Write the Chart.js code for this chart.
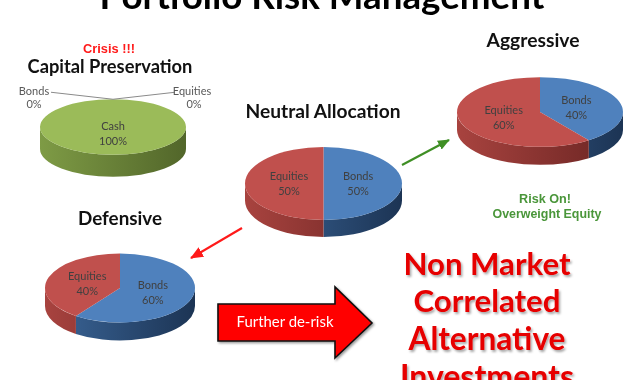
<!DOCTYPE html>
<html><head><meta charset="utf-8">
<script src="https://cdn.jsdelivr.net/npm/chart.js@4.4.1/dist/chart.umd.min.js"></script>
<style>
html,body{margin:0;padding:0;background:#fff;width:630px;height:380px;overflow:hidden;position:relative;}
canvas{position:absolute;}
#ov{position:absolute;left:0;top:0;pointer-events:none;}
.cal{font-family:Lato,"Open Sans",sans-serif;font-weight:700;}
.ari{font-family:"Liberation Sans",Arial,sans-serif;font-weight:700;}
</style></head><body>
<div id="charts"></div>
<svg id="ov" width="630" height="380" xmlns="http://www.w3.org/2000/svg">
<defs>
<marker id="mg" markerWidth="12" markerHeight="10" refX="11" refY="5" orient="auto" markerUnits="userSpaceOnUse"><path d="M0,0 L12,5 L0,10 z" fill="#3f8f25"/></marker>
<marker id="mr" markerWidth="13" markerHeight="11" refX="12" refY="5.5" orient="auto" markerUnits="userSpaceOnUse"><path d="M0,0 L13,5.5 L0,11 z" fill="#ff1a1a"/></marker>
<filter id="sh" x="-10%" y="-10%" width="130%" height="140%"><feDropShadow dx="1.5" dy="2" stdDeviation="1.2" flood-color="#000" flood-opacity="0.35"/></filter>
<filter id="sh2" x="-10%" y="-10%" width="130%" height="130%"><feDropShadow dx="1.5" dy="1.5" stdDeviation="1" flood-color="#000" flood-opacity="0.4"/></filter>
</defs>
<text class="cal fit" x="322" y="9" font-size="38" data-w="445" text-anchor="middle" fill="#000">Portfolio Risk Management</text>
<text class="ari fit" x="109" y="53" font-size="13" data-w="52" text-anchor="middle" fill="#ff1a1a">Crisis !!!</text>
<text class="cal fit" x="110" y="73" font-size="17" data-w="165" text-anchor="middle" fill="#111">Capital Preservation</text>
<text class="cal fit" x="323" y="118" font-size="17" data-w="155" text-anchor="middle" fill="#111">Neutral Allocation</text>
<text class="cal fit" x="533" y="47" font-size="17" data-w="93" text-anchor="middle" fill="#111">Aggressive</text>
<text class="cal fit" x="120" y="225" font-size="17" data-w="84" text-anchor="middle" fill="#111">Defensive</text>
<text class="ari fit" x="545" y="203" font-size="12" data-w="52" text-anchor="middle" fill="#4a963a">Risk On!</text>
<text class="ari fit" x="547" y="218" font-size="12" data-w="109" text-anchor="middle" fill="#4a963a">Overweight Equity</text>
<line x1="402" y1="165" x2="449" y2="140" stroke="#3f8f25" stroke-width="2.2" marker-end="url(#mg)"/>
<line x1="242" y1="228" x2="191" y2="258" stroke="#ff1a1a" stroke-width="2.2" marker-end="url(#mr)"/>
<polygon points="218,304 335,304 335,287 372,323 335,358 335,341 218,341" fill="#ff0000" stroke="#111" stroke-width="1.6" stroke-linejoin="miter" filter="url(#sh2)"/>
<text class="cal fit" x="285" y="327" font-size="13" data-w="97" text-anchor="middle" fill="#fff" style="font-weight:400">Further de-risk</text>
<g class="cal" fill="#e60000" filter="url(#sh)" text-anchor="middle">
<text class="fit" x="487" y="275" font-size="32" data-w="167">Non Market</text>
<text class="fit" x="487" y="312" font-size="32" data-w="147">Correlated</text>
<text class="fit" x="487" y="350" font-size="32" data-w="157">Alternative</text>
<text x="487" y="388" font-size="32">Investments</text>
</g>
</svg>
<script>
// ---- data ----
const capitalLabels = ['Bonds', 'Equities', 'Cash'];
const capitalValues = [0, 0, 100];
const neutralLabels = ['Bonds', 'Equities'];
const neutralValues = [50, 50];
const aggressiveLabels = ['Bonds', 'Equities'];
const aggressiveValues = [40, 60];
const defensiveLabels = ['Bonds', 'Equities'];
const defensiveValues = [60, 40];

// ---- styles ----
const topColors = {Bonds: '#4F81BD', Equities: '#C0504D', Cash: '#9BBB59'};
const sideColors = {Bonds: ['#3b6699', '#1c3454'], Equities: ['#a8433f', '#6a2422'], Cash: ['#7e9b45', '#52662a']};

const pie3d = {
  id: 'pie3d',
  beforeDatasetsDraw(chart, args, o) {
    const ctx = chart.ctx;
    const meta = chart.getDatasetMeta(0);
    const first = meta.data[0];
    const cx = first.x, cy = first.y, r = first.outerRadius, ry = r * o.k, D = o.depth;
    meta.data.forEach((arc, i) => {
      if (!(arc.circumference > 0)) return;
      const [c1, c2] = sideColors[chart.data.labels[i]];
      for (const off of [-2 * Math.PI, 0, 2 * Math.PI]) {
        const lo = Math.max(arc.startAngle, off), hi = Math.min(arc.endAngle, Math.PI + off);
        if (hi - lo > 1e-6) {
          const g = ctx.createLinearGradient(cx - r, 0, cx + r, 0);
          g.addColorStop(0, c1); g.addColorStop(1, c2);
          ctx.beginPath();
          ctx.ellipse(cx, cy, r, ry, 0, lo - off, hi - off, false);
          ctx.ellipse(cx, cy + D, r, ry, 0, hi - off, lo - off, true);
          ctx.closePath();
          ctx.fillStyle = g; ctx.fill();
        }
      }
    });
    ctx.save();
    ctx.translate(cx, cy); ctx.scale(1, o.k); ctx.translate(-cx, -cy);
  },
  afterDatasetsDraw(chart, args, o) {
    const ctx = chart.ctx;
    ctx.restore();
    const meta = chart.getDatasetMeta(0);
    const ds = chart.data.datasets[0];
    const first = meta.data[0];
    const cx = first.x, cy = first.y, r = first.outerRadius, ry = r * o.k;
    const total = ds.data.reduce((a, b) => a + b, 0);
    ctx.save();
    ctx.font = '11px Lato, sans-serif';
    ctx.textBaseline = 'middle';
    ctx.fillStyle = '#404040';
    let zi = 0;
    meta.data.forEach((arc, i) => {
      const v = ds.data[i];
      const name = chart.data.labels[i];
      const pct = Math.round(v / total * 100) + '%';
      if (v > 0) {
        const mid = (arc.startAngle + arc.endAngle) / 2;
        const x = cx + Math.cos(mid) * r * o.labelR;
        const y = cy + Math.sin(mid) * r * o.labelR * o.k;
        ctx.textAlign = 'center';
        ctx.fillText(name, x, y - 7);
        ctx.fillText(pct, x, y + 8);
      } else {
        const side = zi++ === 0 ? -1 : 1;
        const ax = cx, ay = cy - ry;
        const lx = cx + side * o.outDx, ly = ay + o.outDy;
        ctx.strokeStyle = '#8a8a8a'; ctx.lineWidth = 1;
        ctx.beginPath();
        ctx.moveTo(cx + side * o.lineDx, ay - 7);
        ctx.lineTo(ax, ay);
        ctx.stroke();
        ctx.textAlign = 'center';
        ctx.fillStyle = '#595959';
        ctx.fillText(name, lx, ly);
        ctx.fillText(pct, lx + (side > 0 ? 2 : 0), ly + 13);
        ctx.fillStyle = '#404040';
      }
    });
    ctx.restore();
  }
};

function makePie(labels, values, g) {
  const pad = 40;
  const size = 2 * (g.rx + pad);
  const cv = document.createElement('canvas');
  cv.width = size; cv.height = size;
  cv.style.left = (g.cx - g.rx - pad) + 'px';
  cv.style.top = (g.cy - g.rx - pad) + 'px';
  cv.style.width = size + 'px'; cv.style.height = size + 'px';
  document.getElementById('charts').appendChild(cv);
  new Chart(cv, {
    type: 'pie',
    data: {
      labels: labels,
      datasets: [{
        data: values,
        backgroundColor: labels.map(l => topColors[l]),
        borderWidth: 0,
        clip: false
      }]
    },
    options: {
      responsive: false,
      animation: false,
      events: [],
      layout: {padding: pad},
      plugins: {
        legend: {display: false},
        tooltip: {enabled: false},
        pie3d: {k: g.k, depth: g.depth, labelR: g.labelR, outDx: 79, outDy: -8, lineDx: 62}
      }
    },
    plugins: [pie3d]
  });
}

makePie(capitalLabels, capitalValues, {cx: 113, cy: 127, rx: 73, k: 0.38, depth: 22, labelR: 0.25});
makePie(neutralLabels, neutralValues, {cx: 323.5, cy: 183.5, rx: 78.5, k: 0.465, depth: 17, labelR: 0.44});
makePie(aggressiveLabels, aggressiveValues, {cx: 540, cy: 112, rx: 83, k: 0.42, depth: 18, labelR: 0.46});
makePie(defensiveLabels, defensiveValues, {cx: 120, cy: 288, rx: 75, k: 0.46, depth: 18, labelR: 0.46});

// fit text widths to the reference
document.querySelectorAll('text.fit').forEach(t => {
  const w = +t.getAttribute('data-w');
  const fs = +t.getAttribute('font-size');
  const len = t.getComputedTextLength();
  if (len > 0) t.setAttribute('font-size', (fs * w / len).toFixed(2));
});
</script>
</body></html>
